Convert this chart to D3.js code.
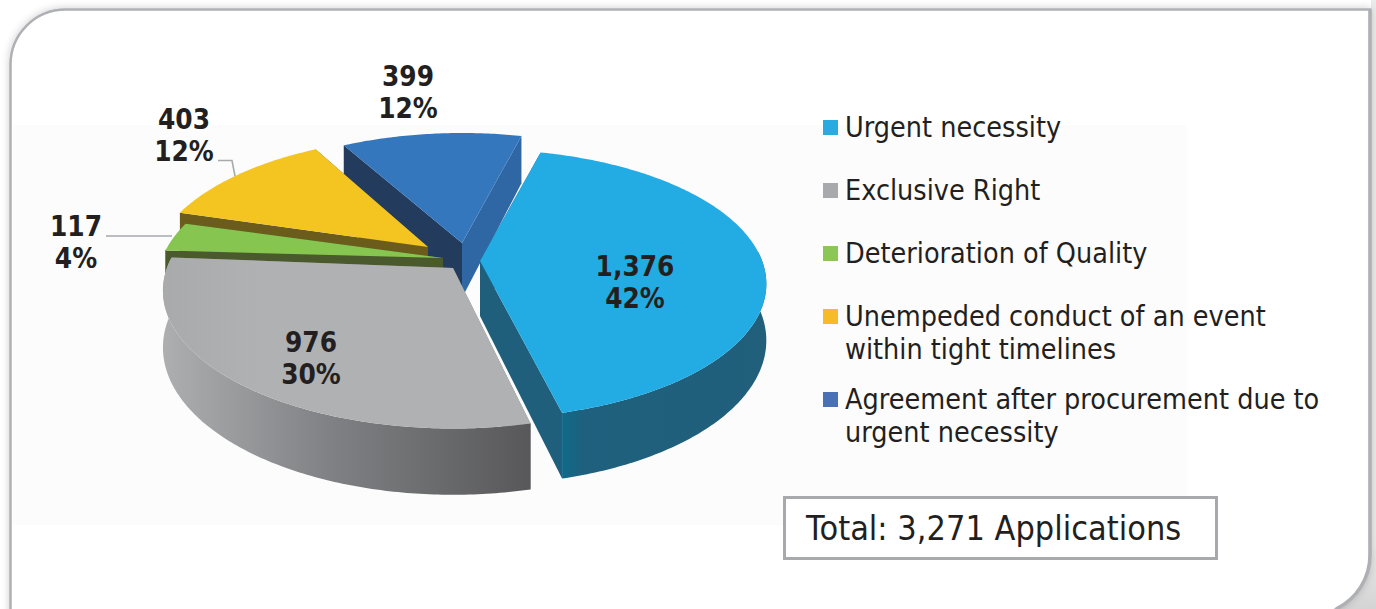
<!DOCTYPE html>
<html>
<head>
<meta charset="utf-8">
<style>html,body{margin:0;padding:0;background:#fff;overflow:hidden}svg{display:block}</style>
<script src="https://cdn.jsdelivr.net/npm/d3@7/dist/d3.min.js"></script>
</head>
<body>
<svg id="chart" width="1376" height="609"></svg>
<script>
// ---- data ----
const categories = ["Urgent necessity","Exclusive Right","Deterioration of Quality","Unempeded conduct of an event","Agreement after procurement due to urgent necessity"];
const values = [1376, 976, 117, 403, 399];
const percents = ["42%","30%","4%","12%","12%"];
const valueLabels = ["1,376","976","117","403","399"];
const legendLines = [["Urgent necessity"],["Exclusive Right"],["Deterioration of Quality"],["Unempeded conduct of an event","within tight timelines"],["Agreement after procurement due to","urgent necessity"]];
const totalLabel = "Total: 3,271 Applications";

// ---- styles / layout ----
const topColors  = ["#23ace3","#b0b1b3","#86c54f","#f4c521","#3577bd"];
const legendColors = ["#29abe2","#a7a9ac","#8cc657","#f5bc27","#4a70b5"];
const startWalls = ["#1f5f7c","#77787b","#4b5a2c","#6b5c1c","#233c5e"];
const endWalls   = ["#1f5f7c","#77787b","#4b5a2c","#6b5c1c","#2f67a5"];
const apexX = [480,453,443,428,462];
const apexY = [261,268,258,247,243];
const radiusScale = [0.99,1.0,0.985,0.955,0.97];
const depthScale = [1.015,1.035,1,1,1];
const shear = [0,-0.035,0,-0.04,0];
const tilt = [0,0.01,0,0,0];
const labelX = [635,311,76,184,408];
const labelY = [276,352,236,129,86];
const legendY = [127,190,253,316,399];
const drawOrder = [4,0,3,2,1];
const R = 285, RK = 128.7, P = 0.17, DEPTH = 55;

const svg = d3.select("#chart");
const defs = svg.append("defs");

const shadow = defs.append("filter").attr("id","soft").attr("x","-5%").attr("y","-5%").attr("width","110%").attr("height","110%");
shadow.append("feGaussianBlur").attr("in","SourceAlpha").attr("stdDeviation",4).attr("result","b");
shadow.append("feComponentTransfer").attr("in","b").attr("result","s").append("feFuncA").attr("type","linear").attr("slope",0.2);
const m = shadow.append("feMerge");
m.append("feMergeNode").attr("in","s");
m.append("feMergeNode").attr("in","SourceGraphic");

function gradient(id, x1, x2, stops, y1, y2){
  const g = defs.append("linearGradient").attr("id",id).attr("gradientUnits","userSpaceOnUse")
    .attr("x1",x1).attr("x2",x2).attr("y1",y1||0).attr("y2",y2||0);
  stops.forEach(s=>g.append("stop").attr("offset",s[0]).attr("stop-color",s[1]));
}
gradient("wallGrey",165,530,[[0,"#adaeb0"],[0.45,"#808184"],[1,"#58585a"]]);
gradient("wallBlue",560,767,[[0,"#0f6a8b"],[0.12,"#1e607d"],[1,"#215f7b"]]);
gradient("topGrey",163,260,[[0,"#a9aaac"],[1,"#b0b1b3"]]);
gradient("cornerFade",0,0,[[0,"#ebebeb"],[1,"#d4d4d4"]],540,609);
const outerFill = ["url(#wallBlue)","url(#wallGrey)",startWalls[2],startWalls[3],endWalls[4]];

// panel
svg.append("rect").attr("x",1371).attr("y",0).attr("width",5).attr("height",545).attr("fill","#ebebeb");
svg.append("rect").attr("x",1300).attr("y",540).attr("width",76).attr("height",69).attr("fill","url(#cornerFade)");
const panelPath = "M10.5,660 V65 A55,55 0 0 1 65.5,9.5 H1370 V555 A60,60 0 0 1 1310,615 V660 Z";
svg.append("path").attr("d",panelPath)
  .attr("fill","#fff").attr("stroke","#aeb0b4").attr("stroke-width",2.5).attr("filter","url(#soft)");
svg.append("path").attr("d","M1370,9 V555 A60,60 0 0 1 1336,609").attr("fill","none").attr("stroke","#aeb0b4").attr("stroke-width",3.5);
svg.append("rect").attr("x",13).attr("y",125).attr("width",1174).attr("height",400).attr("fill","#fcfcfc");

// pie
const startDeg = 14.5;
const toRad = Math.PI/180;
const pie = d3.pie().sort(null).startAngle(startDeg*toRad).endAngle((startDeg+360)*toRad);
const arcs = pie(values);

function project(i, theta, drop){
  const w = 1 + P*Math.cos(theta);
  const dx = R*radiusScale[i]*Math.sin(theta)/w;
  const dy = -RK*depthScale[i]*Math.cos(theta)/w;
  return [apexX[i] + dx + shear[i]*dy,
          apexY[i] + dy + tilt[i]*dx + drop*DEPTH/w];
}
const line = d3.line().curve(d3.curveLinear);
function rimAngles(a){
  const steps = Math.ceil((a.endAngle-a.startAngle)/(toRad*0.75));
  return d3.range(steps+1).map(k=>a.startAngle+(a.endAngle-a.startAngle)*k/steps);
}
const pieG = svg.append("g");
drawOrder.forEach(i=>{
  const a = arcs[i], thetas = rimAngles(a);
  const g = pieG.append("g").attr("class","slice");
  const apexTop=[apexX[i],apexY[i]], apexBot=[apexX[i],apexY[i]+DEPTH];
  const rimTop = thetas.map(t=>project(i,t,0));
  g.append("path").attr("fill",startWalls[i]).attr("d",line([apexTop,project(i,a.startAngle,0),project(i,a.startAngle,1),apexBot])+"Z");
  g.append("path").attr("fill",endWalls[i]).attr("d",line([apexTop,project(i,a.endAngle,0),project(i,a.endAngle,1),apexBot])+"Z");
  // only the front-facing part of the rim has a visible outer wall
  const front = thetas.filter(t=>Math.cos(t)<0.08);
  if(front.length>1){
    const wallTop = front.map(t=>project(i,t,0));
    const wallBot = front.map(t=>project(i,t,1)).reverse();
    g.append("path").attr("fill",outerFill[i]).attr("d",line(wallTop.concat(wallBot))+"Z");
  }
  g.append("path").attr("fill",i===1?"url(#topGrey)":topColors[i]).attr("d",line([apexTop].concat(rimTop))+"Z");
});

// leader lines
const leaderStyle = s=>s.attr("fill","none").attr("stroke","#a7a9ac").attr("stroke-width",1.6);
svg.append("path").attr("d","M218,160.5 H232 L235,176").call(leaderStyle);
svg.append("path").attr("d","M106,236 H172").call(leaderStyle);

// text helper: taller, slightly condensed lettering
function addText(parent, x, y, t, size, sx, opts){
  const s = parent.append("text").attr("transform",`translate(${x},${y}) scale(${sx},1)`)
    .attr("font-family","'DejaVu Sans'").attr("font-size",size).attr("fill","#231f20").text(t);
  if(opts&&opts.bold) s.attr("font-weight","bold");
  if(opts&&opts.middle) s.attr("text-anchor","middle");
  return s;
}

// value labels
const labels = svg.append("g");
values.forEach((v,i)=>{
  addText(labels,labelX[i],labelY[i],valueLabels[i],28,0.89,{bold:true,middle:true});
  addText(labels,labelX[i],labelY[i]+32,percents[i],28,0.89,{bold:true,middle:true});
});

// legend
const legend = svg.append("g");
categories.forEach((c,i)=>{
  legend.append("rect").attr("x",823).attr("y",legendY[i]-7).attr("width",15).attr("height",15).attr("fill",legendColors[i]);
  legendLines[i].forEach((t,k)=>{
    addText(legend,845,legendY[i]+10+k*33-(k?0.5:0),t,28,0.915);
  });
});

// total box
svg.append("rect").attr("x",784.5).attr("y",497.5).attr("width",432).attr("height",61).attr("fill","#fff").attr("stroke","#a7a9ac").attr("stroke-width",3);
addText(svg,806,540,totalLabel,33,0.926);
</script>
</body>
</html>
